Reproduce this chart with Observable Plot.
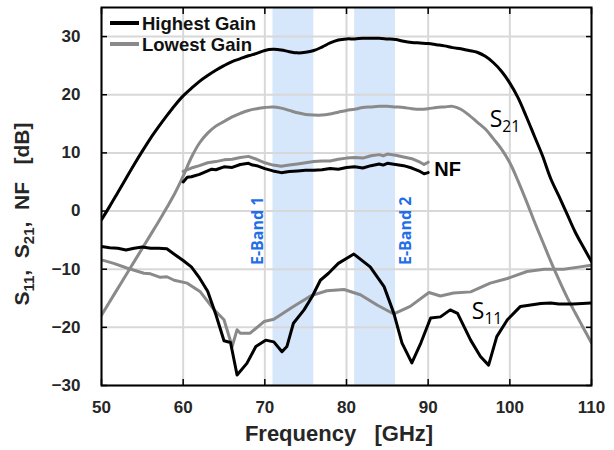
<!DOCTYPE html>
<html><head><meta charset="utf-8">
<script src="https://cdn.jsdelivr.net/npm/d3@7"></script>
<script src="https://cdn.jsdelivr.net/npm/@observablehq/plot@0.6"></script>
<style>body{margin:0;background:#fff} #chart{width:614px;height:450px}</style>
</head><body><div id="chart"></div>
<script>
const xTicks = [50, 60, 70, 80, 90, 100, 110];
const yTicks = [-30, -20, -10, 0, 10, 20, 30];
const bands = [{name: "E-Band 1", start: 71, end: 76}, {name: "E-Band 2", start: 81, end: 86}];
const bandLabels = [{text: "E-Band 1", f: 69.1, v: -3.4}, {text: "E-Band 2", f: 87.3, v: -3.4}];
const seriesNames = ["Highest Gain", "Lowest Gain"];

const s21High = [[50,-1.5],[51,0.8],[52,3.2],[53,5.6],[54,8],[55,10.3],[56,12.5],[57,14.5],[58,16.4],[59,18.2],[60,19.8],[61,21.1],[62,22.3],[63,23.3],[64,24.2],[65,25],[66,25.7],[67,26.2],[68,26.7],[69,27.1],[70,27.6],[71,27.8],[72,27.7],[73,27.4],[74,27.2],[75,27.3],[76,27.6],[77,28.2],[78,28.9],[79,29.4],[80,29.6],[81,29.6],[82,29.7],[83,29.7],[84,29.7],[85,29.6],[86,29.5],[87,29.2],[88,29],[89,28.9],[90,28.8],[91,28.6],[92,28.4],[93,28.1],[94,27.9],[95,27.6],[96,27.3],[97,26.6],[98,25.5],[99,24.0],[100,22.0],[101,19.5],[102,16.3],[103,12.9],[104,9.5],[105,5.6],[106,2.6],[107,-0.5],[108,-3.6],[109,-6.2],[110,-8.7]];
const s21Low = [[50,-17.9],[51,-15.6],[52,-13.3],[53,-11],[54,-8.7],[55,-6.4],[56,-4.1],[57,-1.8],[58,0.6],[59,3.1],[60,6.0],[61,9.2],[62,11.7],[63,13.4],[64,14.6],[65,15.4],[66,16.2],[67,16.8],[68,17.3],[69,17.6],[70,17.8],[71,17.9],[72,17.7],[73,17.3],[74,16.9],[75,16.6],[76,16.5],[77,16.5],[78,16.7],[79,17],[80,17.3],[81,17.5],[82,17.8],[83,17.9],[84,18],[85,18],[86,17.9],[87,17.8],[88,17.6],[89,17.5],[90,17.6],[91,17.8],[92,17.9],[93,18],[94,17.5],[95,16.5],[96,15.3],[97,14.1],[98,12.4],[99,10.6],[100,8.3],[101,5.2],[102,1.8],[103,-1.8],[104,-5.2],[105,-8.6],[106,-11.8],[107,-14.8],[108,-17.5],[109,-20.1],[110,-22.7]];
const nfHigh = [[60,5.0],[60.5,5.8],[61,5.9],[62,6.3],[63,6.9],[63.5,7.2],[64,7.1],[65,7.6],[66,7.5],[67,8.0],[68,8.2],[68.5,7.9],[69,7.8],[70,7.3],[71,6.9],[72,6.6],[73,6.8],[74,6.9],[75,7.0],[76,7.0],[77,7.1],[78,7.3],[79,7.2],[80,7.5],[81,7.6],[82,7.4],[83,7.8],[84,8.1],[84.5,7.9],[85,8.2],[86,8.0],[87,7.8],[88,7.4],[89,6.8],[89.5,6.4],[90,6.6]];
const nfLow = [[60,6.8],[61,7.4],[62,7.8],[63,8.3],[64,8.5],[65,8.8],[66,8.9],[67,9.2],[68,9.4],[69,8.9],[70,8.3],[71,7.9],[72,7.7],[73,7.9],[74,8.1],[75,8.3],[76,8.5],[77,8.6],[78,8.6],[79,8.9],[80,9.1],[81,9.2],[82,9.1],[83,9.5],[84,9.7],[84.5,9.5],[85,9.8],[86,9.6],[87,9.3],[88,9.0],[89,8.4],[89.5,8.0],[90,8.4]];
const s11High = [[50,-6.1],[51,-6.3],[52,-6.4],[53,-6.7],[54,-6.4],[55,-6.2],[56,-6.4],[57,-6.4],[58,-6.5],[59,-7.5],[60,-8.5],[61,-9.6],[62,-11.5],[63,-13.8],[64,-17.8],[65,-22.3],[65.8,-22.6],[66.6,-28.2],[67.8,-26.2],[68.9,-23.3],[70.1,-22.2],[71.1,-22.5],[72.1,-24.2],[72.7,-23.3],[73.5,-19.3],[74.8,-17],[75.8,-14.7],[76.8,-11.9],[77.8,-10.7],[79,-9],[80.9,-7.4],[82.9,-9.6],[84.6,-13],[85.8,-17.6],[86.8,-22.7],[88,-26.1],[89.1,-22.7],[90.3,-18.4],[91.5,-18.2],[92.7,-17],[93.6,-17.6],[95.2,-22.2],[96.4,-25],[97.4,-26.5],[98.4,-21.6],[99.7,-18.7],[101.3,-16.4],[103.8,-15.9],[105,-15.8],[106,-16],[107.8,-16],[110,-15.8]];
const s11Low = [[50,-8.4],[51.5,-9.0],[53.1,-9.8],[55.2,-10.7],[56,-10.8],[57.2,-11.4],[58,-11.3],[58.9,-11.9],[60.5,-12.4],[62.1,-13.9],[63.8,-17],[65,-18.7],[66,-23.3],[66.6,-20.4],[67,-21],[68.2,-21],[69.9,-19],[71.1,-18.6],[73.5,-16.4],[75.6,-14.6],[77.6,-13.7],[79.7,-13.5],[81.7,-14.4],[83.8,-16.2],[85.8,-17.7],[87.8,-16.4],[90.1,-14],[91.5,-14.6],[93.1,-14.1],[95.2,-13.9],[97.6,-12.4],[99.7,-11.6],[102.1,-10.4],[104.2,-10],[106.6,-10],[108.6,-9.6],[110,-9.3]];

const black = "#000000", gray = "#8a8a8a";
const fx = d => d[0], fy = d => d[1];
const lineOpts = (stroke, curve) => ({x: fx, y: fy, stroke, strokeWidth: 3, curve, clip: true});
const axisFont = {fontSize: 17, fontWeight: "bold", fill: "#262626"};

const plot = Plot.plot({
  width: 614, height: 450,
  marginLeft: 101, marginRight: 23, marginTop: 7, marginBottom: 65,
  style: {fontFamily: "'Liberation Sans', Arial, sans-serif", background: "#fff"},
  x: {domain: [50, 110], ticks: xTicks, label: null},
  y: {domain: [-30, 35], ticks: yTicks, label: null},
  marks: [
    Plot.rect(bands, {x1: "start", x2: "end", fill: "#d6e6fb"}),
    Plot.gridX(xTicks, {stroke: "#d8d8d8", strokeOpacity: 1, strokeWidth: 2}),
    Plot.gridY(yTicks, {stroke: "#d8d8d8", strokeOpacity: 1, strokeWidth: 2}),
    Plot.text(bandLabels, {x: "f", y: "v", text: "text", rotate: -90, fill: "#1f6fe8", fontWeight: "bold", fontSize: 16, fontFamily: "'Open Sans', sans-serif"}),
    Plot.line(s21Low, lineOpts(gray, "catmull-rom")),
    Plot.line(s21High, lineOpts(black, "catmull-rom")),
    Plot.line(nfLow, lineOpts(gray, "linear")),
    Plot.line(nfHigh, lineOpts(black, "linear")),
    Plot.line(s11Low, lineOpts(gray, "linear")),
    Plot.line(s11High, lineOpts(black, "linear")),
    Plot.axisX({ticks: xTicks, tickSize: -6, tickPadding: 21, strokeWidth: 1.5, stroke: "#000", ...axisFont}),
    Plot.axisX({ticks: xTicks, anchor: "top", tickSize: -6, tickFormat: () => "", strokeWidth: 1.5, stroke: "#000"}),
    Plot.axisY({ticks: yTicks, tickSize: -6, tickPadding: 27, strokeWidth: 1.5, stroke: "#000", ...axisFont}),
    Plot.axisY({ticks: yTicks, anchor: "right", tickSize: -6, tickFormat: () => "", strokeWidth: 1.5, stroke: "#000"}),
    Plot.frame({stroke: "#000", strokeWidth: 2})
  ]
});

const svg = d3.select(plot);
const X = v => plot.scale("x").apply(v), Y = v => plot.scale("y").apply(v);

// Legend
const legend = svg.append("g").attr("text-anchor", "start").attr("font-family", "'Liberation Sans', Arial, sans-serif").attr("font-weight", "bold").attr("font-size", 18.5);
[[seriesNames[0], black, 23], [seriesNames[1], gray, 44]].forEach(([name, c, y]) => {
  legend.append("line").attr("x1", 110).attr("x2", 139).attr("y1", y).attr("y2", y).attr("stroke", c).attr("stroke-width", 4);
  legend.append("text").attr("x", 142).attr("y", y).attr("dy", "0.36em").attr("fill", "#111").text(name);
});

// Curve annotations
function subLabel(x, y, main, sub, size, weight, family) {
  const t = svg.append("text").attr("text-anchor", "start").attr("x", x).attr("y", y).attr("font-size", size).attr("font-weight", weight).attr("font-family", family).attr("fill", "#000");
  t.append("tspan").text(main);
  if (sub) t.append("tspan").attr("font-size", size * 0.68).attr("dy", size * 0.2).text(sub);
  return t;
}
subLabel(X(97.6), Y(14.3), "S", "21", 23, "normal", "'Open Sans', sans-serif");
subLabel(X(95.4), Y(-18.7), "S", "11", 23, "normal", "'Open Sans', sans-serif");
subLabel(X(90.8), Y(5.9), "NF", null, 20, "bold", "'Liberation Sans', Arial, sans-serif");

// Axis titles
svg.append("text").attr("x", 339).attr("y", 441).attr("text-anchor", "middle")
  .attr("font-family", "'Liberation Sans', Arial, sans-serif").attr("font-weight", "bold").attr("font-size", 22)
  .attr("fill", "#262626").style("white-space", "pre").text("Frequency   [GHz]");

const yl = svg.append("text").attr("transform", "translate(29,214) rotate(-90)").attr("text-anchor", "middle")
  .attr("font-family", "'Liberation Sans', Arial, sans-serif").attr("font-weight", "bold").attr("font-size", 21)
  .attr("fill", "#262626").style("white-space", "pre");
yl.append("tspan").text("S");
yl.append("tspan").attr("font-size", 15).attr("dy", 5).text("11");
yl.append("tspan").attr("dy", -5).text(",  S");
yl.append("tspan").attr("font-size", 15).attr("dy", 5).text("21");
yl.append("tspan").attr("dy", -5).text(",  NF   [dB]");

document.getElementById("chart").appendChild(plot);
</script>
</body></html>
